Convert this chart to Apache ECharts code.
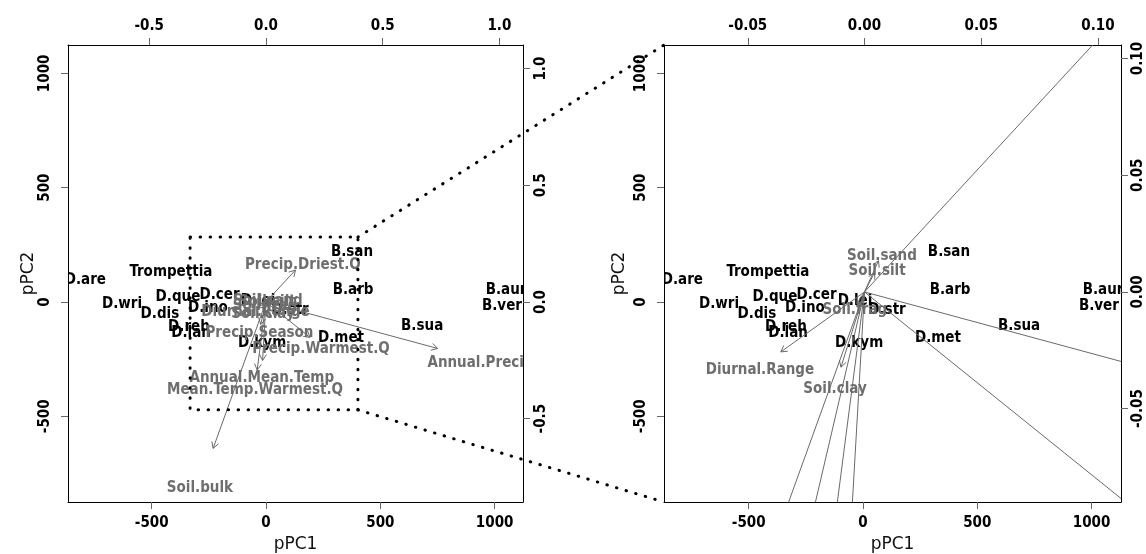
<!DOCTYPE html>
<html><head><meta charset="utf-8">
<script src="https://cdn.jsdelivr.net/npm/echarts@6/dist/echarts.min.js"></script>
<style>html,body{margin:0;padding:0;background:#fff}#c{width:1146px;height:554px}</style>
</head><body><div id="c"></div>
<script>
// ---- data ----
const species = ["D.are","Trompettia","D.wri","D.dis","D.que","D.cer","D.ino","D.reh","D.lan","D.kym","D.lei","D.str","D.met","B.san","B.arb","B.sua","B.aur","B.ver"];
const pc1 = [-790,-416,-630,-464,-385,-203,-254,-337,-328,-17,-35,105,328,376,381,683,1050,1032];
const pc2 = [109,144,4,-39,35,44,-15,-96,-122,-166,17,-22,-144,232,66,-92,66,-4];

const variables = ["Annual.Mean.Temp","Mean.Temp.Warmest.Q","Diurnal.Range","Annual.Precip","Precip.Driest.Q","Precip.Warmest.Q","Precip.Season","Soil.bulk","Soil.clay","Soil.frag","Soil.sand","Soil.silt"];
const load1 = [-0.018,-0.047,-0.0448,0.919,0.158,0.236,-0.028,-0.283,-0.0126,-0.0041,0.0075,0.0054];
const load2 = [-0.313,-0.364,-0.0321,-0.249,0.171,-0.190,-0.120,-0.784,-0.0403,-0.0064,0.0167,0.0103];

const scoreTicks = [-500,0,500,1000];
const leftLoadTicks = [-0.5,0,0.5,1.0];
const rightLoadTicks = [-0.05,0,0.05,0.10];
const zoomBoxX = [-332,402];
const zoomBoxY = [-472,284];
const arrowFrac = 0.8;

// ---- styling ----
const FONT = '"DejaVu Sans Condensed","DejaVu Sans",sans-serif';
const labelFont = 'bold 15px ' + FONT;
const varColor = '#6e6e6e';
const arrowColor = '#6a6a6a';
const textDy = 3;

function mkAxis(o){
  const ticks = o.ticks, dec = o.dec;
  return {
    type:'value', gridIndex:o.grid, position:o.pos, min:o.min, max:o.max,
    splitLine:{show:false},
    axisLine:{show:true, onZero:false, lineStyle:{color:'#000', width:1}},
    axisTick:{show:true, length:7, inside:false, lineStyle:{color:'#666'}, customValues:ticks},
    axisLabel:{show:true, customValues:ticks, margin:o.margin, rotate:o.rotate||0,
      color:'#000', fontWeight:'bold', fontSize:15, fontFamily:FONT,
      formatter: v => dec==null ? String(Math.round(v)) : Number(v).toFixed(dec)},
    name:o.name||'', nameLocation:'middle', nameGap:o.nameGap||0, nameRotate:o.nameRotate,
    nameTextStyle:{color:'#111', fontSize:17, fontFamily:'"DejaVu Sans",sans-serif'}
  };
}

const xAxis = [
  mkAxis({grid:0,pos:'bottom',min:-866,max:1124,ticks:scoreTicks,margin:14,name:'pPC1',nameGap:34}),
  mkAxis({grid:0,pos:'top',min:-0.848,max:1.101,ticks:leftLoadTicks,dec:1,margin:11}),
  mkAxis({grid:1,pos:'bottom',min:-870.5,max:1128.6,ticks:scoreTicks,margin:14,name:'pPC1',nameGap:34}),
  mkAxis({grid:1,pos:'top',min:-0.0859,max:0.1099,ticks:rightLoadTicks,dec:2,margin:11})
];
const yAxis = [
  mkAxis({grid:0,pos:'left',min:-875,max:1124,ticks:scoreTicks,margin:15,rotate:90,name:'pPC2',nameGap:26,nameRotate:90}),
  mkAxis({grid:0,pos:'right',min:-0.857,max:1.101,ticks:leftLoadTicks,dec:1,margin:11,rotate:90}),
  mkAxis({grid:1,pos:'left',min:-875,max:1124,ticks:scoreTicks,margin:15,rotate:90,name:'pPC2',nameGap:36,nameRotate:90}),
  mkAxis({grid:1,pos:'right',min:-0.0900,max:0.1058,ticks:rightLoadTicks,dec:2,margin:10,rotate:90})
];

function textSeries(xi, yi, xs, ys, names, color){
  return {
    type:'custom', xAxisIndex:xi, yAxisIndex:yi, clip:true, silent:true, z:3,
    data: xs.map((x,i)=>[x, ys[i]]),
    encode:{x:0,y:1},
    renderItem:(params, api)=>{
      const p = api.coord([api.value(0), api.value(1)]);
      return {type:'text', x:p[0], y:p[1]+textDy, style:{text:names[params.dataIndex], align:'center', verticalAlign:'middle', fill:color, font:labelFont}};
    }
  };
}
function arrowSeries(xi, yi){
  return {
    type:'custom', xAxisIndex:xi, yAxisIndex:yi, clip:true, silent:true, z:4,
    data: load1.map((x,i)=>[x, load2[i]]),
    encode:{x:0,y:1},
    renderItem:(params, api)=>{
      const o = api.coord([0,0]);
      const t = api.coord([api.value(0)*arrowFrac, api.value(1)*arrowFrac]);
      const ang = Math.atan2(t[1]-o[1], t[0]-o[0]);
      const L = 7, a = Math.PI/6;
      const h1 = [t[0]-L*Math.cos(ang-a), t[1]-L*Math.sin(ang-a)];
      const h2 = [t[0]-L*Math.cos(ang+a), t[1]-L*Math.sin(ang+a)];
      return {type:'group', children:[
        {type:'line', shape:{x1:o[0],y1:o[1],x2:t[0],y2:t[1]}, style:{stroke:arrowColor, lineWidth:1}},
        {type:'polyline', shape:{points:[h1,t,h2]}, style:{stroke:arrowColor, lineWidth:1, fill:null}}
      ]};
    }
  };
}

const dotStyle = {color:'#000', width:3, type:[0.5,9.5], cap:'round'};
const boxData = [[zoomBoxX[0],zoomBoxY[1]],[zoomBoxX[1],zoomBoxY[1]],[zoomBoxX[1],zoomBoxY[0]],[zoomBoxX[0],zoomBoxY[0]],[zoomBoxX[0],zoomBoxY[1]]];

const chart = echarts.init(document.getElementById('c'), null, {renderer:'canvas'});
chart.setOption({
  animation:false,
  backgroundColor:'#fff',
  grid:[
    {left:68,top:45,width:455,height:457,show:false,containLabel:false,outerBoundsMode:'none'},
    {left:664,top:45,width:457,height:457,show:false,containLabel:false,outerBoundsMode:'none'}
  ],
  xAxis, yAxis,
  series:[
    textSeries(0,0,pc1,pc2,species,'#000'),
    arrowSeries(1,1),
    textSeries(1,1,load1,load2,variables,varColor),
    textSeries(2,2,pc1,pc2,species,'#000'),
    arrowSeries(3,3),
    textSeries(3,3,load1,load2,variables,varColor),
    {type:'line', xAxisIndex:0, yAxisIndex:0, data:boxData, symbol:'none', silent:true, z:5, lineStyle:dotStyle, clip:false}
  ]
});

// connectors from the zoom box to the right panel
const a1 = chart.convertToPixel({xAxisIndex:0,yAxisIndex:0}, [zoomBoxX[1], zoomBoxY[1]]);
const a2 = chart.convertToPixel({xAxisIndex:0,yAxisIndex:0}, [zoomBoxX[1], zoomBoxY[0]]);
const b1 = chart.convertToPixel({xAxisIndex:2,yAxisIndex:2}, [xAxis[2].min, yAxis[2].max]);
const b2 = chart.convertToPixel({xAxisIndex:2,yAxisIndex:2}, [xAxis[2].min, yAxis[2].min]);
const gStyle = {stroke:'#000', lineWidth:3, lineDash:[0.5,9.5], lineCap:'round'};
chart.setOption({graphic:[
  {type:'line', z:10, silent:true, shape:{x1:a1[0],y1:a1[1],x2:b1[0],y2:b1[1]}, style:gStyle},
  {type:'line', z:10, silent:true, shape:{x1:a2[0],y1:a2[1],x2:b2[0],y2:b2[1]}, style:gStyle}
]});
</script></body></html>
